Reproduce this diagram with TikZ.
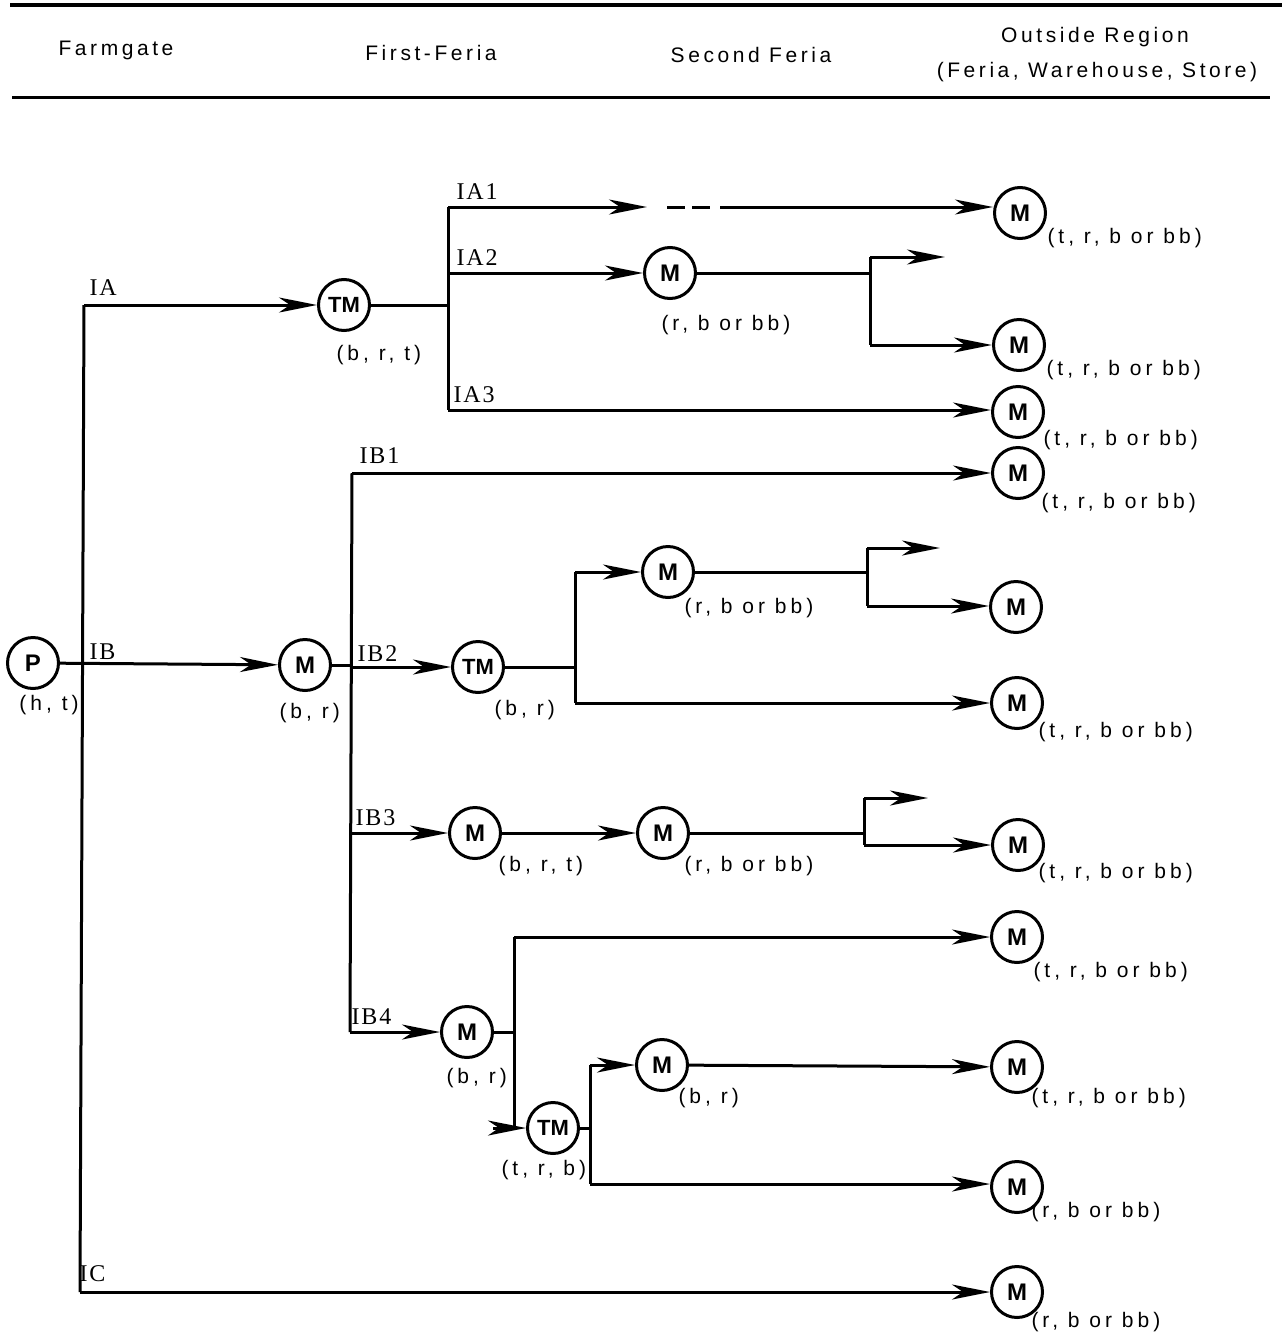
\documentclass[tikz,border=0pt]{standalone}
\usepackage{fontspec}
\usetikzlibrary{arrows.meta}
\newfontfamily\hfont[LetterSpace=17]{Liberation Sans}
\newfontfamily\lfont[LetterSpace=19]{Liberation Sans}
\newfontfamily\nfont{Liberation Sans}
\newfontfamily\brfont[LetterSpace=8]{Liberation Serif}
\tikzset{
  arr/.style={-{Stealth[length=38pt,width=15pt,inset=11pt]}},
  ln/.style={line width=3pt},
  mk/.style={circle,draw,line width=3pt,minimum size=51pt,inner sep=0pt,font=\nfont\bfseries\fontsize{24}{24}\selectfont},
  tmk/.style={mk,font=\nfont\bfseries\fontsize{22}{22}\selectfont},
  lab/.style={font=\lfont\fontsize{21}{24}\selectfont,inner sep=0pt,anchor=west},
  hd/.style={font=\hfont\fontsize{21}{30}\selectfont,inner sep=0pt},
  br/.style={font=\brfont\fontsize{24}{24}\selectfont,inner sep=0pt,anchor=base west},
}
\begin{document}
\begin{tikzpicture}[x=1pt,y=-1pt,ln]
\useasboundingbox (0,0) rectangle (1282,1339);
% header
\coordinate (r1a) at (10,5); \coordinate (r1b) at (1282,5);
\coordinate (r2a) at (12,97); \coordinate (r2b) at (1270,97);
\draw[line width=3.2pt] (r1a) -- (r1b);
\draw[line width=3pt] (r2a) -- (r2b);
\node[hd] (h1) at (116,50) {Farmgate};
\node[hd] (h2) at (431,53) {First-Feria};
\node[hd] (h3) at (751,55) {Second Feria};
\node[hd] (h4) at (1095,37) {Outside Region};
\node[hd] (h5) at (1097,72) {(Feria, Warehouse, Store)};

% nodes
\node[mk] (P) at (33,663) {P};
\node[tmk] (TMa) at (344,305) {TM};
\node[mk] (Ma2) at (670,273) {M};
\node[mk] (M1) at (1020,213) {M};
\node[mk] (M2) at (1019,345) {M};
\node[mk] (M3) at (1018,412) {M};
\node[mk] (M4) at (1018,473) {M};
\node[mk] (Mb) at (305,665) {M};
\node[tmk] (TMb2) at (478,667) {TM};
\node[mk] (Mb2) at (668,572) {M};
\node[mk] (M5) at (1016,607) {M};
\node[mk] (M6) at (1017,703) {M};
\node[mk] (Mb3a) at (475,833) {M};
\node[mk] (Mb3b) at (663,833) {M};
\node[mk] (M7) at (1018,845) {M};
\node[mk] (Mb4) at (467,1032) {M};
\node[mk] (M8) at (1017,937) {M};
\node[tmk] (TMb4) at (553,1128) {TM};
\node[mk] (Mb4b) at (662,1065) {M};
\node[mk] (M9) at (1017,1067) {M};
\node[mk] (M10) at (1017,1187) {M};
\node[mk] (M11) at (1017,1292) {M};

% labels under nodes
\node[lab] (lP) at (18,705) {(h, t)};
\node[lab] (lTMa) at (335,355) {(b, r, t)};
\node[lab] (lMa2) at (660,325) {(r, b or bb)};
\node[lab] (l1) at (1046,238) {(t, r, b or bb)};
\node[lab] (l2) at (1045,370) {(t, r, b or bb)};
\node[lab] (l3) at (1042,440) {(t, r, b or bb)};
\node[lab] (l4) at (1040,503) {(t, r, b or bb)};
\node[lab] (lMb) at (278,713) {(b, r)};
\node[lab] (lTMb2) at (493,710) {(b, r)};
\node[lab] (lMb2) at (683,608) {(r, b or bb)};
\node[lab] (l6) at (1037,732) {(t, r, b or bb)};
\node[lab] (lMb3a) at (497,866) {(b, r, t)};
\node[lab] (lMb3b) at (683,866) {(r, b or bb)};
\node[lab] (l7) at (1037,873) {(t, r, b or bb)};
\node[lab] (lMb4) at (445,1078) {(b, r)};
\node[lab] (l8) at (1032,972) {(t, r, b or bb)};
\node[lab] (lTMb4) at (500,1170) {(t, r, b)};
\node[lab] (lMb4b) at (677,1098) {(b, r)};
\node[lab] (l9) at (1030,1098) {(t, r, b or bb)};
\node[lab] (l10) at (1030,1212) {(r, b or bb)};
\node[lab] (l11) at (1030,1322) {(r, b or bb)};

% branch labels
\node[br] (bIA) at (88,295) {IA};
\node[br] (bIB) at (88,659) {IB};
\node[br] (bIC) at (78,1281) {IC};
\node[br] (bIA1) at (455,199) {IA1};
\node[br] (bIA2) at (455,265) {IA2};
\node[br] (bIA3) at (452,402) {IA3};
\node[br] (bIB1) at (358,463) {IB1};
\node[br] (bIB2) at (356,661) {IB2};
\node[br] (bIB3) at (354,825) {IB3};
\node[br] (bIB4) at (350,1024) {IB4};

% farmgate trunk
\coordinate (fT) at (84,305);
\coordinate (fB) at (80,1292);
\draw (fT) -- (fB);
\draw[arr] (fT) -- (TMa);
\draw[arr] (P) -- (Mb);
\draw[arr] (fB) -- (M11);

% IA branches
\coordinate (jA1) at (448,207);
\coordinate (jA3) at (448,410);
\draw (jA1) -- (jA3);
\draw (TMa) -- (TMa -| jA1);
\coordinate (ia1tip) at (647,207);
\coordinate (ia1d1) at (667,207);
\coordinate (ia1d2) at (712,207);
\coordinate (ia1s) at (720,207);
\draw[arr] (jA1) -- (ia1tip);
\draw[dash pattern=on 18pt off 7pt] (ia1d1) -- (ia1d2);
\draw[arr] (ia1s) -- (M1.west |- ia1s);
\draw[arr] (Ma2 -| jA1) -- (Ma2);
\draw[arr] (jA3) -- (M3.west |- jA3);
% after Ma2
\coordinate (kA1) at (870,257);
\coordinate (kA2) at (870,345);
\coordinate (kAtip) at (945,257);
\draw (Ma2) -- (Ma2 -| kA1);
\draw (kA1) -- (kA2);
\draw[arr] (kA1) -- (kAtip);
\draw[arr] (kA2) -- (M2);

% IB branches
\coordinate (jB1) at (352,473);
\coordinate (jB4) at (350,1032);
\draw (jB1) -- (jB4);
\draw (Mb) -- (Mb -| jB1);
\draw[arr] (jB1) -- (M4.west |- jB1);
\draw[arr] (TMb2 -| jB1) -- (TMb2);
\draw[arr] (Mb3a -| jB1) -- (Mb3a);
\draw[arr] (jB4) -- (Mb4);
% IB2
\coordinate (kB1) at (575,572);
\coordinate (kB2) at (575,703);
\draw (TMb2) -- (TMb2 -| kB1);
\draw (kB1) -- (kB2);
\draw[arr] (kB1) -- (Mb2);
\draw[arr] (kB2) -- (M6);
\coordinate (kC1) at (867,548);
\coordinate (kC2) at (867,606);
\coordinate (kCtip) at (940,548);
\draw (Mb2) -- (Mb2 -| kC1);
\draw (kC1) -- (kC2);
\draw[arr] (kC1) -- (kCtip);
\draw[arr] (kC2) -- (M5.west |- kC2);
% IB3
\draw[arr] (Mb3a) -- (Mb3b);
\coordinate (kD1) at (864,798);
\coordinate (kD2) at (864,845);
\coordinate (kDtip) at (928,798);
\draw (Mb3b) -- (Mb3b -| kD1);
\draw (kD1) -- (kD2);
\draw[arr] (kD1) -- (kDtip);
\draw[arr] (kD2) -- (M7);
% IB4
\coordinate (kE1) at (514,937);
\coordinate (kE2) at (514,1128);
\draw (Mb4) -- (Mb4 -| kE1);
\draw (kE1) -- (kE2);
\draw[arr] (kE1) -- (M8);
\coordinate (kEa) at (493,1128);
\draw[arr] (kEa) -- (TMb4);
\coordinate (kF1) at (590,1065);
\coordinate (kF2) at (590,1184);
\draw (TMb4) -- (TMb4 -| kF1);
\draw (kF1) -- (kF2);
\draw[arr] (kF1) -- (Mb4b);
\draw[arr] (Mb4b) -- (M9);
\draw[arr] (kF2) -- (M10.west |- kF2);
\end{tikzpicture}
\end{document}
